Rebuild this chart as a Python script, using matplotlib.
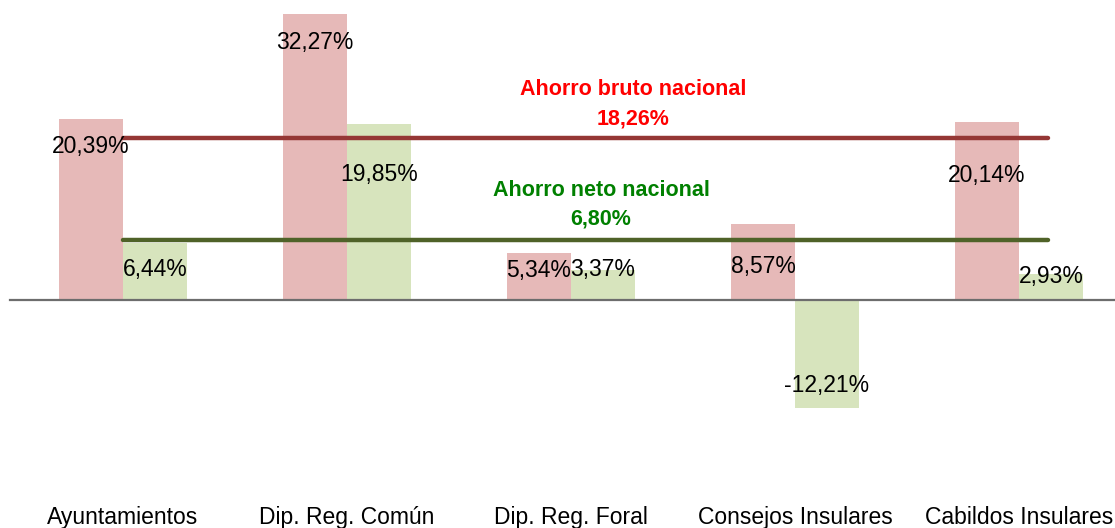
import numpy as np
import matplotlib.pyplot as plt
from matplotlib import font_manager

categorias = ["Ayuntamientos", "Dip. Reg. Común", "Dip. Reg. Foral",
              "Consejos Insulares", "Cabildos Insulares"]
ahorro_bruto = [20.39, 32.27, 5.34, 8.57, 20.14]
ahorro_neto = [6.44, 19.85, 3.37, -12.21, 2.93]
bruto_nacional = 18.26
neto_nacional = 6.80

# label placement (px below bar value to the text centre)
off_bruto = [27, 28, 18, 42, 54]
off_neto = [27, 50, -1, -23, 2]

PX = 8.86  # px per percentage point

names = {f.name for f in font_manager.fontManager.ttflist}
narrow = ["Liberation Sans Narrow", "Liberation Sans", "DejaVu Sans"]
narrow = [n for n in narrow if n in names] or ["DejaVu Sans"]


def pct(v):
    return f"{v:.2f}%".replace(".", ",")


fig = plt.figure(figsize=(11.15, 5.28), dpi=100)
ax = fig.add_axes([0, 28 / 528, 1, 500 / 528])

x = np.arange(len(categorias))
w = 64 / 224
ax.bar(x - w / 2, ahorro_bruto, w, color="#E6B9B8", zorder=1)
ax.bar(x + w / 2, ahorro_neto, w, color="#D7E4BD", zorder=1)

ax.axhline(0, xmin=10 / 1115, xmax=1, color="#6d6d6d", lw=1.6, zorder=2)

x0, x1 = 0.0, (1048 - 123) / 224
ax.plot([x0, x1], [bruto_nacional] * 2, color="#953735", lw=3.2,
        solid_capstyle="round", zorder=3)
ax.plot([x0, x1], [neto_nacional] * 2, color="#4F6228", lw=3.2,
        solid_capstyle="round", zorder=3)

for i in range(len(categorias)):
    vb = ahorro_bruto[i]
    ax.text(x[i] - w / 2, vb - off_bruto[i] / PX, pct(vb),
            ha="center", va="center", fontsize=16.5, family=narrow, zorder=4)
    vn = ahorro_neto[i]
    ax.text(x[i] + w / 2, vn - off_neto[i] / PX, pct(vn),
            ha="center", va="center", fontsize=16.5, family=narrow, zorder=4)

bold = ["Liberation Sans", "DejaVu Sans"]
ax.text((633 - 123) / 224, (300 - 104) / PX,
        "Ahorro bruto nacional\n" + pct(bruto_nacional),
        color="#FF0000", fontweight="bold", fontsize=15.5, ha="center",
        va="center", family=bold, linespacing=1.5)
ax.text((601 - 123) / 224, (300 - 205) / PX,
        "Ahorro neto nacional\n" + pct(neto_nacional),
        color="#008000", fontweight="bold", fontsize=15.5, ha="center",
        va="center", family=bold, linespacing=1.5)

ax.set_xlim(-123 / 224, (1115 - 123) / 224)
ax.set_ylim(-200 / PX, 300 / PX)
ax.set_xticks(x)
ax.set_xticklabels(categorias, fontsize=16.5, family=narrow)
ax.tick_params(axis="x", length=0, pad=4)
ax.set_yticks([])
for s in ax.spines.values():
    s.set_visible(False)

fig.savefig("out.png", dpi=100)
